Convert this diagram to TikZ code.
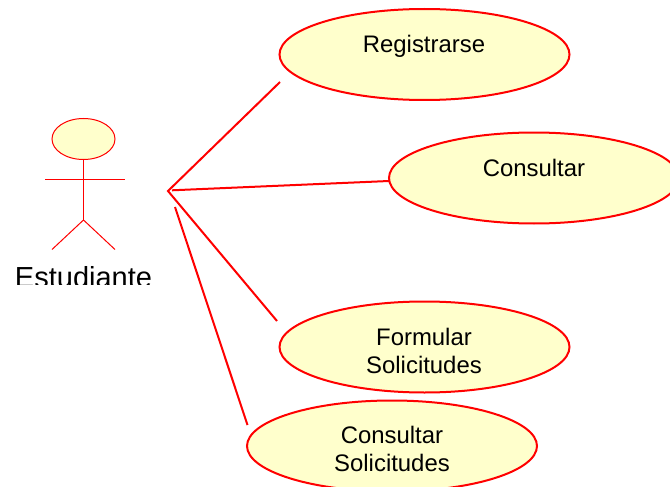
\documentclass[tikz,border=0pt]{standalone}
\usepackage{fontspec}
\setmainfont{Liberation Sans}
\usetikzlibrary{shapes.geometric}
\definecolor{ucfill}{HTML}{FFFFCC}
\tikzset{
  usecase/.style={ellipse,draw=red,fill=ucfill,line width=2pt,inner sep=0pt,minimum width=290pt,minimum height=91pt},
  uclabel/.style={font=\fontsize{23.9}{28}\selectfont,align=center,text=black,inner sep=0pt},
  limb/.style={draw=red,line width=1pt},
  assoc/.style={draw=red,line width=2pt}
}
\begin{document}
\begin{tikzpicture}[x=1pt,y=-1pt]
\useasboundingbox (0,0) rectangle (670,487);
\clip (0,0) rectangle (670,487);
\node[usecase] (reg) at (424.5,54.5) {};
\node[uclabel] (regt) at (424,46) {Registrarse};
\node[usecase] (con) at (534,178) {};
\node[uclabel] (cont) at (534,168) {Consultar};
\node[usecase] (form) at (424.5,347) {};
\node[uclabel] (formt) at (424,351) {Formular\\Solicitudes};
\node[usecase] (csol) at (392,446) {};
\node[uclabel] (csolt) at (392,449) {Consultar\\Solicitudes};
% actor
\node[ellipse,draw=red,fill=ucfill,line width=1pt,inner sep=0pt,minimum width=63pt,minimum height=41pt] (head) at (83.5,139) {};
\coordinate (hip) at (83.5,220);
\coordinate (armL) at (45,179);
\coordinate (armR) at (124.5,179);
\coordinate (legL) at (52,249.5);
\coordinate (legR) at (115,249.5);
\draw[limb] (head.south) -- (hip);
\draw[limb] (armL) -- (armR);
\draw[limb] (legL) -- (hip) -- (legR);
\begin{scope}
\clip (0,255) rectangle (200,284);
\node[anchor=base,font=\fontsize{29}{34}\selectfont,inner sep=0pt] (actor) at (83.5,287) {Estudiante};
\end{scope}
% associations
\coordinate (hub) at (168,191);
\coordinate (hubB) at (172,190.3);
\coordinate (hubC) at (175,207);
\coordinate (e1) at (280,82);
\coordinate (e2) at (389,181);
\coordinate (e3) at (277,321);
\coordinate (e4) at (247.5,425);
\draw[assoc,line join=miter] (e1) -- (hub) -- (e3);
\draw[assoc] (hubB) -- (e2);
\draw[assoc] (hubC) -- (e4);
\end{tikzpicture}
\end{document}
